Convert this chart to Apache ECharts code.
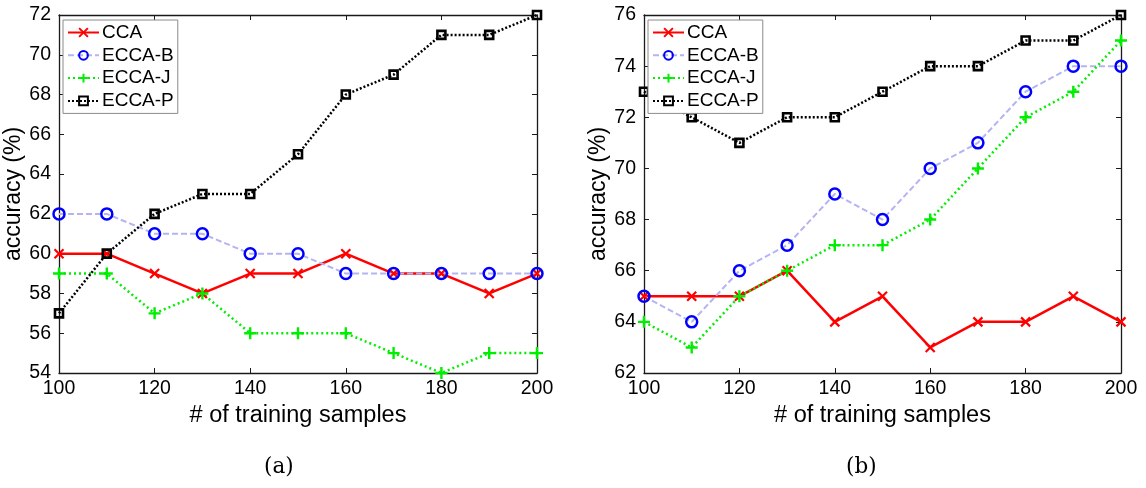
<!DOCTYPE html>
<html>
<head>
<meta charset="utf-8">
<script src="https://cdn.jsdelivr.net/npm/echarts@6/dist/echarts.min.js"></script>
<style>
  html, body { margin: 0; padding: 0; background: #fff; }
  #chart { width: 1146px; height: 488px; }
</style>
</head>
<body>
<div id="chart"></div>
<script>
// Number of training samples (x values shared by both panels)
const samples = [100, 110, 120, 130, 140, 150, 160, 170, 180, 190, 200];
const seriesNames = ['CCA', 'ECCA-B', 'ECCA-J', 'ECCA-P'];

// Panel (a) accuracy (%)
const ccaA   = [60, 60, 59, 58, 59, 59, 60, 59, 59, 58, 59];
const eccaBA = [62, 62, 61, 61, 60, 60, 59, 59, 59, 59, 59];
const eccaJA = [59, 59, 57, 58, 56, 56, 56, 55, 54, 55, 55];
const eccaPA = [57, 60, 62, 63, 63, 65, 68, 69, 71, 71, 72];

// Panel (b) accuracy (%)
const ccaB   = [65, 65, 65, 66, 64, 65, 63, 64, 64, 65, 64];
const eccaBB = [65, 64, 66, 67, 69, 68, 70, 71, 73, 74, 74];
const eccaJB = [64, 63, 65, 66, 67, 67, 68, 70, 72, 73, 75];
const eccaPB = [73, 72, 71, 72, 72, 73, 74, 74, 75, 75, 76];

// Axis ranges
const xRange = { min: 100, max: 200, interval: 20 };
const yRangeA = { min: 54, max: 72, interval: 2 };
const yRangeB = { min: 62, max: 76, interval: 2 };

const FONT = '"Liberation Sans", Arial, Helvetica, sans-serif';
const SERIF = '"DejaVu Serif", "Liberation Serif", serif';
const AXIS_COLOR = '#1a1a1a';

function pairs(ys) { return samples.map((x, i) => [x, ys[i]]); }

// Per-series look: line style + marker
const styles = {
  'CCA': {
    symbol: 'path://M0,0L10,10M0,10L10,0', symbolSize: 9,
    lineStyle: { color: '#ff0000', width: 2.5, type: 'solid' },
    itemStyle: { color: '#ff0000', borderColor: '#ff0000', borderWidth: 2.2 }
  },
  'ECCA-B': {
    symbol: 'circle', symbolSize: 11,
    lineStyle: { color: '#b4b4f2', width: 2, type: [6, 3] },
    itemStyle: { color: 'rgba(255,255,255,0)', borderColor: '#0000ff', borderWidth: 2.5 }
  },
  'ECCA-J': {
    symbol: 'path://M5,0L5,10M0,5L10,5', symbolSize: 12,
    lineStyle: { color: '#00ee00', width: 2.5, type: [2, 3] },
    itemStyle: { color: '#00ee00', borderColor: '#00ee00', borderWidth: 2.4 }
  },
  'ECCA-P': {
    symbol: 'rect', symbolSize: 8,
    lineStyle: { color: '#000000', width: 2.5, type: [2, 2] },
    itemStyle: { color: 'rgba(255,255,255,0)', borderColor: '#000000', borderWidth: 2.6 }
  }
};

function makeSeries(name, ys, idx) {
  const s = styles[name];
  return {
    name: name,
    type: 'line',
    xAxisIndex: idx * 2,
    yAxisIndex: idx * 2,
    data: pairs(ys),
    symbol: s.symbol,
    symbolSize: s.symbolSize,
    showAllSymbol: true,
    lineStyle: s.lineStyle,
    itemStyle: s.itemStyle,
    emphasis: { disabled: true },
    animation: false,
    clip: false
  };
}

const grids = [
  { left: 59, top: 15, width: 478, height: 358 },
  { left: 644, top: 15, width: 477, height: 358 }
];

function xAxes(gridIndex) {
  return [
    {
      type: 'value', gridIndex, position: 'bottom', ...xRange,
      name: '# of training samples', nameLocation: 'middle', nameGap: 17,
      nameTextStyle: { fontFamily: FONT, fontSize: 23.5, color: '#000' },
      axisLine: { show: true, lineStyle: { color: AXIS_COLOR, width: 1.3 } },
      axisTick: { show: true, inside: true, length: 5, lineStyle: { color: AXIS_COLOR } },
      axisLabel: { fontFamily: FONT, fontSize: 19.5, color: '#000', margin: 6 },
      splitLine: { show: false }
    },
    {
      type: 'value', gridIndex, position: 'top', ...xRange,
      axisLine: { show: true, lineStyle: { color: AXIS_COLOR, width: 1.3 } },
      axisTick: { show: true, inside: true, length: 5, lineStyle: { color: AXIS_COLOR } },
      axisLabel: { show: false },
      splitLine: { show: false }
    }
  ];
}

function yAxes(gridIndex, range) {
  return [
    {
      type: 'value', gridIndex, position: 'left', ...range,
      name: 'accuracy (%)', nameLocation: 'middle', nameGap: 28, nameRotate: 90,
      nameTextStyle: { fontFamily: FONT, fontSize: 23, color: '#000' },
      axisLine: { show: true, lineStyle: { color: AXIS_COLOR, width: 1.3 } },
      axisTick: { show: true, inside: true, length: 5, lineStyle: { color: AXIS_COLOR } },
      axisLabel: { fontFamily: FONT, fontSize: 19.5, color: '#000', margin: 8 },
      splitLine: { show: false }
    },
    {
      type: 'value', gridIndex, position: 'right', ...range,
      axisLine: { show: true, lineStyle: { color: AXIS_COLOR, width: 1.3 } },
      axisTick: { show: true, inside: true, length: 5, lineStyle: { color: AXIS_COLOR } },
      axisLabel: { show: false },
      splitLine: { show: false }
    }
  ];
}

function legendAt(left) {
  return {
    data: seriesNames,
    orient: 'vertical',
    left: left, top: 20,
    itemWidth: 31, itemHeight: 11, itemGap: 3.8,
    padding: [3, 4, 3, 4],
    backgroundColor: '#fff',
    borderColor: '#8a8a8a', borderWidth: 1, borderRadius: 0,
    selectedMode: false,
    textStyle: { fontFamily: FONT, fontSize: 19, color: '#000', padding: [0, 0, 0, -2], lineHeight: 19 }
  };
}

const panelSeries = [
  [ccaA, eccaBA, eccaJA, eccaPA],
  [ccaB, eccaBB, eccaJB, eccaPB]
];

const series = [];
panelSeries.forEach((arrs, p) => {
  arrs.forEach((ys, i) => series.push(makeSeries(seriesNames[i], ys, p)));
});

const chart = echarts.init(document.getElementById('chart'), null, { renderer: 'canvas' });
chart.setOption({
  backgroundColor: '#fff',
  animation: false,
  grid: grids,
  xAxis: [...xAxes(0), ...xAxes(1)],
  yAxis: [...yAxes(0, yRangeA), ...yAxes(1, yRangeB)],
  legend: [legendAt(63), legendAt(648)],
  series: series,
  graphic: [
    { type: 'text', left: 264, top: 456, style: { text: '(a)', fontFamily: SERIF, fontSize: 21.5, fill: '#000' } },
    { type: 'text', left: 846, top: 456, style: { text: '(b)', fontFamily: SERIF, fontSize: 21.5, fill: '#000' } }
  ]
});
</script>
</body>
</html>
